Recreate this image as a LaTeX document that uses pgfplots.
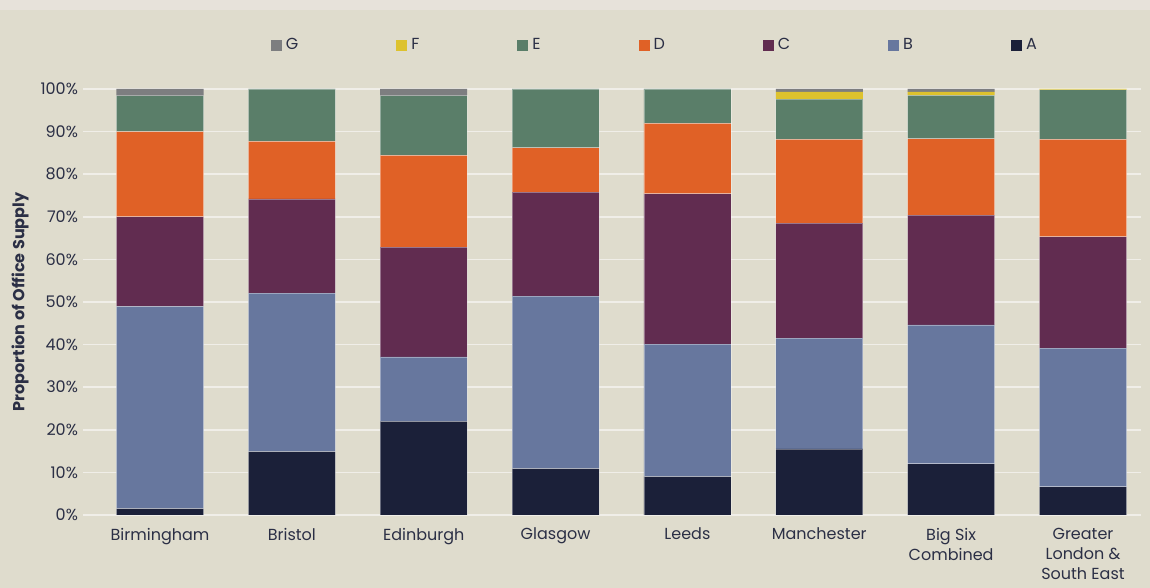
\documentclass[border=0pt]{standalone}
\usepackage{pgfplots}
\usepackage{pgfplotstable}
\pgfplotsset{compat=1.18}
\usepackage{fontspec}
\setmainfont{Poppins}
\definecolor{cA}{HTML}{1B2039}
\definecolor{cB}{HTML}{67779E}
\definecolor{cC}{HTML}{612C50}
\definecolor{cD}{HTML}{E06126}
\definecolor{cE}{HTML}{5A7E69}
\definecolor{cF}{HTML}{DDC22E}
\definecolor{cG}{HTML}{7D7E80}
\definecolor{bgc}{HTML}{DFDCCD}
\definecolor{topc}{HTML}{E7E2DA}
\definecolor{gridc}{HTML}{F0EEE8}
\definecolor{txt}{HTML}{2B2F45}
\pgfplotstableread{
x A B C D E F G
0 1.5 47.5 21.0 20.0 8.4 0 1.6
1 14.9 37.2 22.1 13.5 12.3 0 0
2 22.0 15.1 25.8 21.5 14.0 0 1.6
3 10.9 40.5 24.4 10.4 13.8 0 0
4 9.0 31.1 35.3 16.5 8.1 0 0
5 15.5 26.0 27.0 19.7 9.4 1.7 0.7
6 12.0 32.6 25.8 17.9 10.2 0.8 0.7
7 6.6 32.6 26.1 22.9 11.6 0.2 0
}\datatable
\begin{document}
\begin{tikzpicture}
\fill[bgc] (-41.5pt,-36.5pt) rectangle (533.5pt,257.5pt);
\fill[topc] (-41.5pt,252.5pt) rectangle (533.5pt,257.5pt);
\begin{axis}[
  at={(0,0)}, anchor=south west,
  scale only axis, width=529pt, height=213pt,
  xmin=-0.584, xmax=7.44, ymin=0, ymax=100,
  ybar stacked, bar width=0.66,
  axis line style={draw=none}, tick style={draw=none},
  ymajorgrids, grid style={gridc, line width=0.8pt},
  ytick={0,10,...,100},
  yticklabel={\pgfmathprintnumber[assume math mode=true]{\tick}\%},
  yticklabel style={font=\fontsize{8}{10}\selectfont, text=txt, xshift=1pt},
  xtick={0,...,7},
  xticklabels={Birmingham, Bristol, Edinburgh, Glasgow, Leeds, Manchester, {Big Six\\Combined}, {Greater\\London \&\\South East}},
  xticklabel style={align=center, font=\fontsize{8}{10}\selectfont, text=txt, yshift=-3pt},
  ylabel={\textbf{Proportion of Office Supply}},
  ylabel style={font=\fontsize{8}{10}\selectfont, text=txt, anchor=center, at={(axis description cs:-0.0595,0.5)}},
  legend columns=7,
  reverse legend,
  legend style={at={(rel axis cs:0.1715,1.103)}, anchor=west, draw=none, fill=none,
    font=\fontsize{8}{10}\selectfont, text=txt,
    /tikz/every even column/.append style={column sep=47pt}},
  legend image code/.code={\fill[#1,draw=none] (0pt,-2.75pt) rectangle (5.5pt,2.75pt);},
  every axis plot/.append style={draw=white, draw opacity=0.35, line width=0.4pt},
]
\addplot[fill=cA] table[x=x,y=A]{\datatable};
\addplot[fill=cB] table[x=x,y=B]{\datatable};
\addplot[fill=cC] table[x=x,y=C]{\datatable};
\addplot[fill=cD] table[x=x,y=D]{\datatable};
\addplot[fill=cE] table[x=x,y=E]{\datatable};
\addplot[fill=cF, draw=none] table[x=x,y=F]{\datatable};
\addplot[fill=cG, draw=none] table[x=x,y=G]{\datatable};
\legend{A,B,C,D,E,F,G}
\end{axis}
\pgfresetboundingbox
\useasboundingbox (-41.5pt,-36.5pt) rectangle (533.5pt,257.5pt);
\end{tikzpicture}
\end{document}
